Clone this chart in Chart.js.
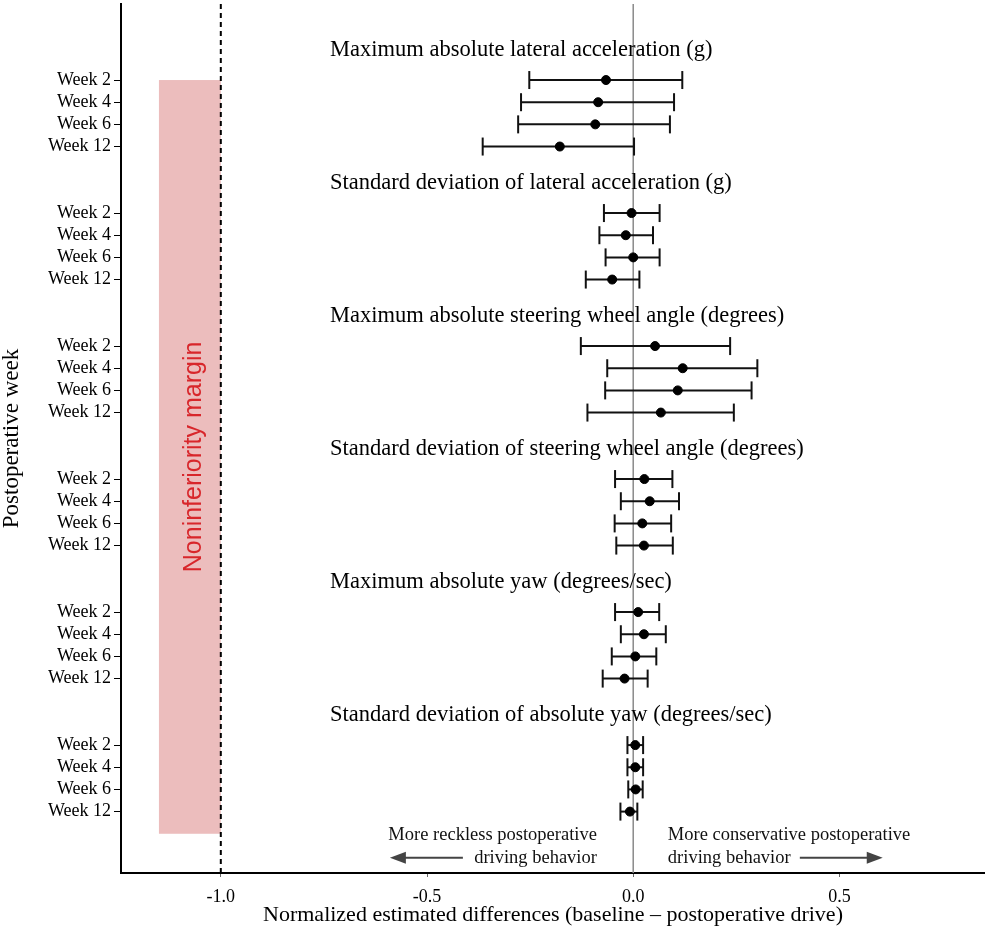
<!DOCTYPE html>
<html>
<head>
<meta charset="utf-8">
<script src="https://cdn.jsdelivr.net/npm/chart.js@4/dist/chart.umd.min.js"></script>
<style>
  body { margin: 0; background: #fff; }
  #wrap { width: 985px; height: 930px; }
</style>
</head>
<body>
<div id="wrap"><canvas id="forest"></canvas></div>
<script>
// postoperative weeks shown inside every outcome block
const weeks = ['Week 2', 'Week 4', 'Week 6', 'Week 12'];

const measures = [
  'Maximum absolute lateral acceleration (g)',
  'Standard deviation of lateral acceleration (g)',
  'Maximum absolute steering wheel angle (degrees)',
  'Standard deviation of steering wheel angle (degrees)',
  'Maximum absolute yaw (degrees/sec)',
  'Standard deviation of absolute yaw (degrees/sec)'
];

// normalized estimated differences, one row per measure (weeks 2, 4, 6, 12)
const estimates = [
  [-0.066, -0.085, -0.092, -0.178],
  [-0.004, -0.018,  0.000, -0.051],
  [ 0.053,  0.120,  0.108,  0.067],
  [ 0.027,  0.040,  0.022,  0.026],
  [ 0.012,  0.026,  0.005, -0.021],
  [ 0.005,  0.005,  0.006, -0.008]
];
const lowerCI = [
  [-0.252, -0.272, -0.279, -0.365],
  [-0.071, -0.082, -0.067, -0.115],
  [-0.127, -0.063, -0.068, -0.111],
  [-0.044, -0.030, -0.045, -0.041],
  [-0.044, -0.030, -0.052, -0.074],
  [-0.014, -0.014, -0.012, -0.031]
];
const upperCI = [
  [0.119, 0.099, 0.089, 0.002],
  [0.064, 0.048, 0.064, 0.015],
  [0.235, 0.301, 0.287, 0.244],
  [0.095, 0.111, 0.092, 0.096],
  [0.063, 0.079, 0.056, 0.035],
  [0.024, 0.024, 0.023, 0.010]
];

const xTicks = [-1.0, -0.5, 0.0, 0.5];
const marginBand = [-1.15, -1.0];
const noninferiorityLimit = -1.0;

const SERIF = '"Liberation Serif", "Times New Roman", serif';
const PER_GROUP = 6;
const rowPos = (g, k) => g * PER_GROUP + k;

const pointData = [];
const ciSets = [];
measures.forEach((m, g) => {
  weeks.forEach((w, k) => {
    const y = rowPos(g, k);
    pointData.push({ x: estimates[g][k], y: y });
    ciSets.push({
      type: 'scatter',
      showLine: true,
      data: [{ x: lowerCI[g][k], y: y }, { x: upperCI[g][k], y: y }],
      borderColor: '#111',
      borderWidth: 2,
      pointStyle: 'line',
      pointRotation: 90,
      pointRadius: 9,
      pointBorderWidth: 2,
      pointBorderColor: '#111',
      order: 1
    });
  });
});

const yTickValues = [];
measures.forEach((m, g) => weeks.forEach((w, k) => yTickValues.push(rowPos(g, k))));

function arrow(ctx, x0, x1, y) {
  const dir = Math.sign(x1 - x0);
  ctx.strokeStyle = '#444';
  ctx.fillStyle = '#444';
  ctx.lineWidth = 2;
  ctx.beginPath();
  ctx.moveTo(x0, y);
  ctx.lineTo(x1 - dir * 12, y);
  ctx.stroke();
  ctx.beginPath();
  ctx.moveTo(x1, y);
  ctx.lineTo(x1 - dir * 16, y - 6);
  ctx.lineTo(x1 - dir * 16, y + 6);
  ctx.closePath();
  ctx.fill();
}

function noEdgePadding(s) {
  s.paddingTop = 0;
  s.paddingBottom = 0;
  s.paddingLeft = 0;
  s.paddingRight = 0;
}

const decor = {
  id: 'decor',
  beforeDatasetsDraw(chart) {
    const { ctx, chartArea: a, scales: { x, y } } = chart;
    ctx.save();
    // noninferiority band
    const bx0 = x.getPixelForValue(marginBand[0]);
    const bx1 = x.getPixelForValue(marginBand[1]);
    const by0 = y.getPixelForValue(0);
    const by1 = y.getPixelForValue(rowPos(measures.length - 1, weeks.length));
    ctx.fillStyle = '#ecbdbd';
    ctx.fillRect(bx0, by0, bx1 - bx0, by1 - by0);

    // zero reference
    const zx = x.getPixelForValue(0);
    ctx.strokeStyle = '#8a8a8a';
    ctx.lineWidth = 1.5;
    ctx.beginPath();
    ctx.moveTo(zx, a.top);
    ctx.lineTo(zx, a.bottom);
    ctx.stroke();

    // noninferiority limit
    const dx = x.getPixelForValue(noninferiorityLimit);
    ctx.strokeStyle = '#000';
    ctx.lineWidth = 2;
    ctx.setLineDash([5, 4]);
    ctx.beginPath();
    ctx.moveTo(dx, a.top);
    ctx.lineTo(dx, a.bottom);
    ctx.stroke();
    ctx.setLineDash([]);

    ctx.save();
    ctx.translate((bx0 + bx1) / 2 + 4, (by0 + by1) / 2);
    ctx.rotate(-Math.PI / 2);
    ctx.font = '25px "Liberation Sans", Arial, sans-serif';
    ctx.fillStyle = '#d8262b';
    ctx.textAlign = 'center';
    ctx.textBaseline = 'middle';
    ctx.fillText('Noninferiority margin', 0, 0);
    ctx.restore();
    ctx.restore();
  },
  afterDatasetsDraw(chart) {
    const { ctx, scales: { x, y } } = chart;
    ctx.save();
    ctx.fillStyle = '#000';
    ctx.font = '22.5px ' + SERIF;
    ctx.textAlign = 'left';
    ctx.textBaseline = 'middle';
    const tx = x.getPixelForValue(-0.735);
    measures.forEach((m, g) => {
      ctx.fillText(m, tx, y.getPixelForValue(rowPos(g, 0) - 1.35));
    });

    // direction annotations under the last block
    const y1 = y.getPixelForValue(rowPos(measures.length - 1, weeks.length) + 0.05);
    const y2 = y.getPixelForValue(rowPos(measures.length - 1, weeks.length) + 1.08);
    ctx.font = '18.5px ' + SERIF;
    ctx.fillStyle = '#111';
    ctx.textAlign = 'right';
    const lx = x.getPixelForValue(-0.088);
    ctx.fillText('More reckless postoperative', lx, y1);
    ctx.fillText('driving behavior', lx, y2);
    ctx.textAlign = 'left';
    const rx = x.getPixelForValue(0.084);
    ctx.fillText('More conservative postoperative', rx, y1);
    ctx.fillText('driving behavior', rx, y2);
    arrow(ctx, x.getPixelForValue(-0.413), x.getPixelForValue(-0.590), y2);
    arrow(ctx, x.getPixelForValue(0.404), x.getPixelForValue(0.605), y2);
    ctx.restore();
  }
};

new Chart(document.getElementById('forest'), {
  type: 'scatter',
  data: {
    datasets: [{
      data: pointData,
      backgroundColor: '#000',
      borderColor: '#000',
      pointRadius: 4.5,
      order: 0
    }].concat(ciSets)
  },
  options: {
    responsive: true,
    maintainAspectRatio: false,
    animation: false,
    events: [],
    layout: { autoPadding: false, padding: { top: 4, right: 0, bottom: 0, left: 0 } },
    plugins: {
      legend: { display: false },
      tooltip: { enabled: false }
    },
    scales: {
      x: {
        type: 'linear',
        min: -1.242,
        max: 0.853,
        border: { color: '#000', width: 2 },
        grid: { drawOnChartArea: false, tickLength: 4, tickColor: '#666' },
        afterBuildTicks: s => { s.ticks = xTicks.map(v => ({ value: v })); },
        afterFit: s => { s.height = 57; noEdgePadding(s); },
        ticks: {
          color: '#000',
          padding: 9,
          font: { family: SERIF, size: 18 },
          callback: v => v.toFixed(1)
        },
        title: {
          display: true,
          text: 'Normalized estimated differences (baseline \u2013 postoperative drive)',
          color: '#000',
          font: { family: SERIF, size: 22, lineHeight: 1 },
          padding: { top: 0, bottom: 4 }
        }
      },
      y: {
        type: 'linear',
        reverse: true,
        min: -3.43,
        max: 35.77,
        border: { color: '#000', width: 2 },
        grid: { drawOnChartArea: false, tickLength: 7, tickColor: '#000' },
        afterBuildTicks: s => { s.ticks = yTickValues.map(v => ({ value: v })); },
        afterFit: s => { s.width = 121; noEdgePadding(s); },
        ticks: {
          color: '#000',
          padding: 3,
          autoSkip: false,
          font: { family: SERIF, size: 18 },
          callback: (v, i) => weeks[i % weeks.length]
        },
        title: {
          display: true,
          text: 'Postoperative week',
          color: '#000',
          font: { family: SERIF, size: 23, lineHeight: 1 },
          padding: 0
        }
      }
    }
  },
  plugins: [decor]
});
</script>
</body>
</html>
